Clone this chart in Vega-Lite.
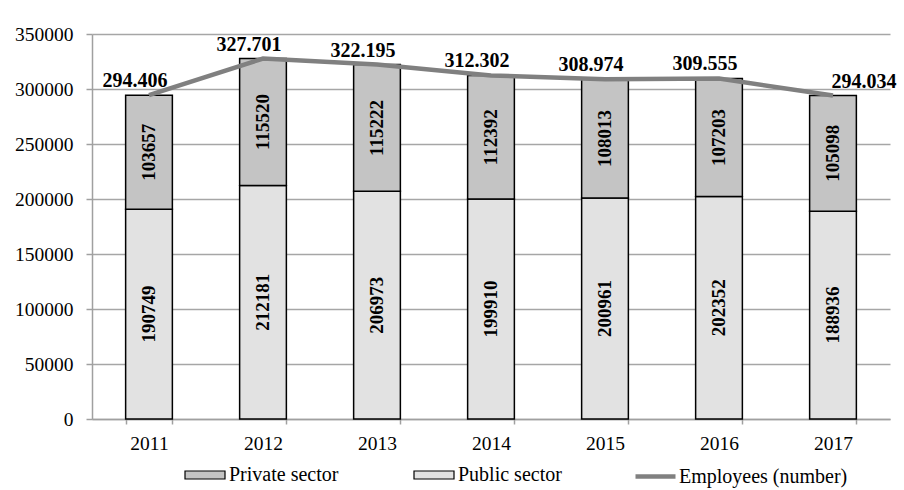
{
  "$schema": "https://vega.github.io/schema/vega-lite/v6.json",
  "autosize": "none",
  "width": 798,
  "height": 385,
  "padding": {"left": 92, "top": 34, "right": 14, "bottom": 71},
  "background": "white",
  "config": {
    "view": {"stroke": null},
    "font": "Liberation Serif",
    "axis": {"labelFont": "Liberation Serif", "labelColor": "black", "labelFontSize": 19.5, "domainColor": "#a0a0a0", "domainWidth": 1.5, "tickColor": "#a0a0a0", "tickWidth": 1.5, "gridColor": "#a6a6a6", "gridWidth": 1.5, "title": null},
    "legend": {"labelFont": "Liberation Serif", "labelFontSize": 20, "labelColor": "black", "labelLimit": 300, "padding": 0, "labelOffset": 3, "title": null}
  },
  "data": {"values": [
    {"year": "2011", "sector": "Public sector", "value": 190749},
    {"year": "2011", "sector": "Private sector", "value": 103657},
    {"year": "2012", "sector": "Public sector", "value": 212181},
    {"year": "2012", "sector": "Private sector", "value": 115520},
    {"year": "2013", "sector": "Public sector", "value": 206973},
    {"year": "2013", "sector": "Private sector", "value": 115222},
    {"year": "2014", "sector": "Public sector", "value": 199910},
    {"year": "2014", "sector": "Private sector", "value": 112392},
    {"year": "2015", "sector": "Public sector", "value": 200961},
    {"year": "2015", "sector": "Private sector", "value": 108013},
    {"year": "2016", "sector": "Public sector", "value": 202352},
    {"year": "2016", "sector": "Private sector", "value": 107203},
    {"year": "2017", "sector": "Public sector", "value": 188936},
    {"year": "2017", "sector": "Private sector", "value": 105098}
  ]},
  "encoding": {
    "x": {"field": "year", "type": "nominal", "scale": {"paddingInner": 0.59, "paddingOuter": 0.295},
      "axis": {"labelAngle": 0, "tickBand": "extent", "tickSize": 5, "labelPadding": 10, "domain": true}}
  },
  "layer": [
    {
      "transform": [
        {"stack": "value", "groupby": ["year"], "sort": [{"field": "sector", "order": "descending"}], "as": ["v0", "v1"]},
        {"calculate": "(datum.v0 + datum.v1) / 2", "as": "mid"}
      ],
      "layer": [
        {
          "mark": {"type": "bar", "stroke": "black", "strokeWidth": 1.5},
          "encoding": {
            "y": {"field": "v0", "type": "quantitative", "scale": {"domain": [0, 350000]},
              "axis": {"values": [0, 50000, 100000, 150000, 200000, 250000, 300000, 350000], "format": "d", "tickSize": 6, "labelPadding": 13, "grid": true}},
            "y2": {"field": "v1"},
            "fill": {"field": "sector", "type": "nominal",
              "scale": {"domain": ["Private sector", "Public sector"], "range": ["#c4c4c4", "#e2e2e2"]},
              "legend": {
                "orient": "none", "legendX": 92, "legendY": 420, "direction": "horizontal",
                "columnPadding": 72, "symbolSize": 1600, "symbolType": "M-1,-0.2H1V0.2H-1Z",
                "symbolStrokeColor": "black", "symbolStrokeWidth": 1.2, "symbolOpacity": 1
              }}
          }
        },
        {
          "mark": {"type": "text", "angle": 270, "align": "center", "baseline": "middle", "font": "Liberation Serif", "fontWeight": "bold", "fontSize": 19, "color": "black"},
          "encoding": {
            "y": {"field": "mid", "type": "quantitative"},
            "text": {"field": "value", "type": "quantitative", "format": "d"}
          }
        }
      ]
    },
    {
      "transform": [
        {"aggregate": [{"op": "sum", "field": "value", "as": "total"}], "groupby": ["year"]},
        {"calculate": "replace(format(datum.total, ','), ',', '.')", "as": "lbl"}
      ],
      "layer": [
        {
          "mark": {"type": "line", "strokeWidth": 4.5},
          "encoding": {
            "y": {"field": "total", "type": "quantitative"},
            "stroke": {"datum": "Employees (number)", "type": "nominal",
              "scale": {"range": ["#808080"]},
              "legend": {
                "orient": "none", "legendX": 541, "legendY": 420, "direction": "horizontal",
                "symbolSize": 1600, "symbolType": "stroke", "symbolStrokeWidth": 4.5, "labelOffset": 1
              }}
          }
        },
        {
          "transform": [{"filter": "datum.year !== '2017'"}],
          "mark": {"type": "text", "font": "Liberation Serif", "fontWeight": "bold", "fontSize": 20, "baseline": "alphabetic", "align": "center", "dx": -14, "dy": -8, "color": "black"},
          "encoding": {
            "y": {"field": "total", "type": "quantitative"},
            "text": {"field": "lbl", "type": "nominal"}
          }
        },
        {
          "transform": [{"filter": "datum.year === '2017'"}],
          "mark": {"type": "text", "font": "Liberation Serif", "fontWeight": "bold", "fontSize": 20, "baseline": "alphabetic", "align": "center", "dx": 31, "dy": -8, "color": "black"},
          "encoding": {
            "y": {"field": "total", "type": "quantitative"},
            "text": {"field": "lbl", "type": "nominal"}
          }
        }
      ]
    }
  ]
}
